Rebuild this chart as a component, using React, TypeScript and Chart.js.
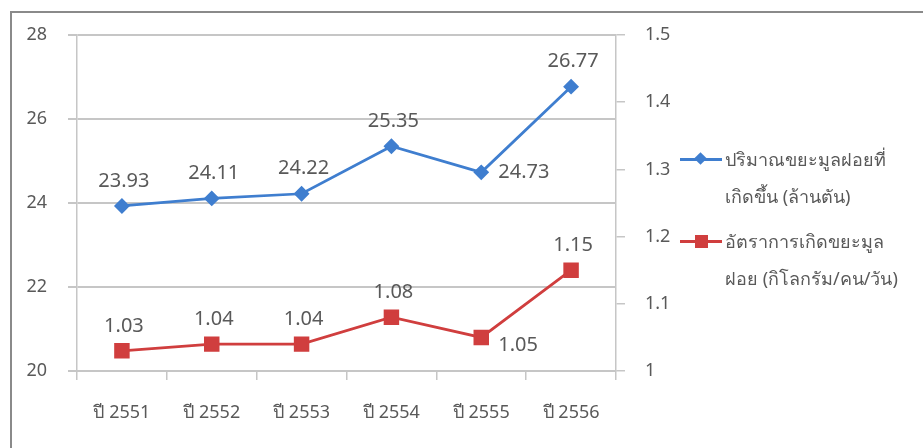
import React, { useEffect, useRef } from "react";
import { Chart, registerables } from "chart.js";

Chart.register(...registerables);

const categories = ["ปี 2551", "ปี 2552", "ปี 2553", "ปี 2554", "ปี 2555", "ปี 2556"];
const wasteAmount = [23.93, 24.11, 24.22, 25.35, 24.73, 26.77];
const wasteRate = [1.03, 1.04, 1.04, 1.08, 1.05, 1.15];
const leftTicks = [20, 22, 24, 26, 28];
const rightTicks = [1, 1.1, 1.2, 1.3, 1.4, 1.5];
const amountLegend = ["ปริมาณขยะมูลฝอยที่", "เกิดขึ้น (ล้านตัน)"];
const rateLegend = ["อัตราการเกิดขยะมูล", "ฝอย (กิโลกรัม/คน/วัน)"];
const amountLabelPlace = ["top", "top", "top", "top", "right", "top"];
const rateLabelPlace = ["top", "top", "top", "top", "rightBelow", "top"];

const BLUE = "#3F7ECF";
const RED = "#D03E3E";
const TEXT = "#595959";
const GRID = "#C6C6C6";
const FONT = "'Noto Sans', 'DejaVu Sans', sans-serif";

const labelPlugin = {
  id: "valueLabels",
  afterDatasetsDraw(chart: any) {
    const ctx = chart.ctx;
    ctx.save();
    ctx.font = `20px ${FONT}`;
    ctx.fillStyle = TEXT;
    chart.data.datasets.forEach((ds: any, di: number) => {
      const meta = chart.getDatasetMeta(di);
      const places = di === 0 ? amountLabelPlace : rateLabelPlace;
      meta.data.forEach((pt: any, i: number) => {
        const v = ds.data[i];
        const txt = v.toFixed(2);
        const p = places[i];
        if (p === "top") {
          ctx.textAlign = "center";
          ctx.textBaseline = "middle";
          ctx.fillText(txt, pt.x + 2, pt.y - 25);
        } else if (p === "right") {
          ctx.textAlign = "left";
          ctx.textBaseline = "middle";
          ctx.fillText(txt, pt.x + 17, pt.y);
        } else {
          ctx.textAlign = "left";
          ctx.textBaseline = "middle";
          ctx.fillText(txt, pt.x + 17, pt.y + 8);
        }
      });
    });
    ctx.restore();
  },
};

export default function App() {
  const ref = useRef<HTMLCanvasElement>(null);
  useEffect(() => {
    if (!ref.current) return;
    const chart = new Chart(ref.current, {
      type: "line",
      data: {
        labels: categories,
        datasets: [
          {
            label: amountLegend.join(""),
            data: wasteAmount,
            yAxisID: "y",
            borderColor: BLUE,
            backgroundColor: BLUE,
            borderWidth: 2.75,
            pointStyle: "rectRot",
            pointRadius: 6,
            pointHoverRadius: 6,
            tension: 0,
          },
          {
            label: rateLegend.join(""),
            data: wasteRate,
            yAxisID: "y1",
            borderColor: RED,
            backgroundColor: RED,
            borderWidth: 2.75,
            pointStyle: "rect",
            pointRadius: 9,
            pointHoverRadius: 9,
            tension: 0,
          },
        ],
      },
      options: {
        animation: false,
        responsive: false,
        maintainAspectRatio: false,
        layout: { padding: { top: 35, left: 0, right: 0, bottom: 0 } },
        plugins: { legend: { display: false }, tooltip: { enabled: false } },
        scales: {
          x: {
            type: "category",
            offset: true,
            grid: { offset: true, drawOnChartArea: false, tickLength: 9, color: GRID, lineWidth: 1.5 },
            border: { color: GRID, width: 2 },
            ticks: { padding: 22, color: TEXT, font: { size: 18, family: FONT }, maxRotation: 0 },
            afterFit: (s: any) => { s.height = 77; },
          },
          y: {
            position: "left",
            min: 20,
            max: 28,
            afterBuildTicks: (s: any) => { s.ticks = leftTicks.map((v) => ({ value: v })); },
            grid: { color: GRID, tickLength: 9, lineWidth: 2 },
            border: { color: GRID, width: 1.5 },
            ticks: { padding: 21, color: TEXT, font: { size: 18, family: FONT } },
            afterFit: (s: any) => { s.width = 77; },
          },
          y1: {
            position: "right",
            min: 1,
            max: 1.5,
            afterBuildTicks: (s: any) => { s.ticks = rightTicks.map((v) => ({ value: v })); },
            grid: { drawOnChartArea: false, color: GRID, tickLength: 9, lineWidth: 1.5 },
            border: { color: GRID, width: 1.5 },
            ticks: {
              padding: 20,
              color: TEXT,
              font: { size: 18, family: FONT },
              callback: (v: any) => String(Number(Number(v).toFixed(1))),
            },
            afterFit: (s: any) => { s.width = 923 - 616; },
          },
        },
      },
      plugins: [labelPlugin],
    });
    return () => chart.destroy();
  }, []);

  const legendText: React.CSSProperties = {
    position: "absolute",
    left: 725,
    fontFamily: FONT,
    fontSize: 18,
    color: TEXT,
    lineHeight: "37px",
    whiteSpace: "nowrap",
  };

  return (
    <div style={{ position: "fixed", left: 0, top: 0, width: 923, height: 448, overflow: "hidden", background: "#fff" }}>
      <div style={{ position: "absolute", left: 10, top: 11, width: 1000, height: 600, border: "2px solid #8A8A8A", boxSizing: "border-box" }} />
      <canvas ref={ref} width={923} height={448} style={{ position: "absolute", left: 0, top: 0, width: 923, height: 448 }} />
      {/* legend */}
      <div style={{ position: "absolute", left: 680, top: 158, width: 42, height: 3, background: BLUE }} />
      <div style={{ position: "absolute", left: 696, top: 154, width: 9, height: 9, background: BLUE, transform: "rotate(45deg)" }} />
      <div style={{ ...legendText, top: 141 }}>
        {amountLegend[0]}
        <br />
        {amountLegend[1]}
      </div>
      <div style={{ position: "absolute", left: 680, top: 240, width: 42, height: 3, background: RED }} />
      <div style={{ position: "absolute", left: 695, top: 235, width: 13, height: 13, background: RED }} />
      <div style={{ ...legendText, top: 223 }}>
        {rateLegend[0]}
        <br />
        {rateLegend[1]}
      </div>
    </div>
  );
}
